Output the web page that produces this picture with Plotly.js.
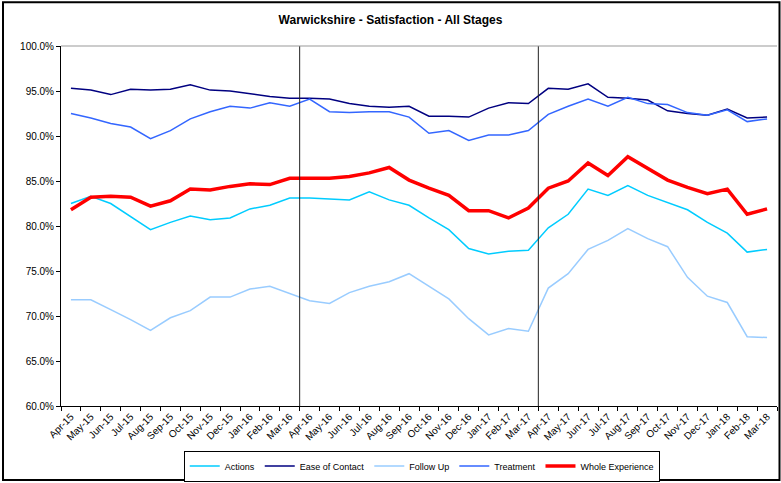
<!DOCTYPE html>
<html>
<head>
<meta charset="utf-8">
<script src="https://cdn.plot.ly/plotly-3.0.1.min.js"></script>
<style>html,body{margin:0;padding:0;background:#fff;}#chart{width:781px;height:483px;}</style>
</head>
<body>
<div id="chart"></div>
<script>
const months = ["Apr-15","May-15","Jun-15","Jul-15","Aug-15","Sep-15","Oct-15","Nov-15","Dec-15","Jan-16","Feb-16","Mar-16",
"Apr-16","May-16","Jun-16","Jul-16","Aug-16","Sep-16","Oct-16","Nov-16","Dec-16","Jan-17","Feb-17","Mar-17",
"Apr-17","May-17","Jun-17","Jul-17","Aug-17","Sep-17","Oct-17","Nov-17","Dec-17","Jan-18","Feb-18","Mar-18"];

const actions = [82.5,83.3,82.5,81.0,79.6,80.4,81.1,80.7,80.9,81.9,82.3,83.1,
83.1,83.0,82.9,83.8,82.9,82.3,80.9,79.6,77.5,76.9,77.2,77.3,
79.8,81.3,84.1,83.4,84.5,83.4,82.6,81.8,80.4,79.2,77.1,77.4];

const easeOfContact = [95.3,95.1,94.6,95.2,95.1,95.2,95.7,95.1,95.0,94.7,94.4,94.2,
94.2,94.1,93.6,93.3,93.2,93.3,92.2,92.2,92.1,93.1,93.7,93.6,
95.3,95.2,95.8,94.3,94.2,94.0,92.8,92.5,92.3,93.0,92.0,92.1];

const followUp = [71.8,71.8,70.7,69.6,68.4,69.8,70.6,72.1,72.1,73.0,73.3,72.5,
71.7,71.4,72.6,73.3,73.8,74.7,73.3,71.9,69.7,67.9,68.6,68.3,
73.1,74.7,77.4,78.4,79.7,78.6,77.7,74.3,72.2,71.5,67.7,67.6];

const treatment = [92.5,92.0,91.4,91.0,89.7,90.6,91.9,92.7,93.3,93.1,93.7,93.3,
94.1,92.7,92.6,92.7,92.7,92.1,90.3,90.6,89.5,90.1,90.1,90.6,
92.4,93.3,94.1,93.3,94.3,93.6,93.5,92.6,92.3,92.9,91.6,91.9];

const wholeExperience = [81.8,83.2,83.3,83.2,82.2,82.8,84.1,84.0,84.4,84.7,84.6,85.3,
85.3,85.3,85.5,85.9,86.5,85.1,84.2,83.4,81.7,81.7,80.9,82.0,
84.2,85.0,87.0,85.6,87.7,86.4,85.1,84.3,83.6,84.1,81.3,81.9];

const yearBreaks = [11.5, 23.5];

const font = "Liberation Sans, Arial, sans-serif";

const traces = [
  {name:"Actions", y:actions, color:"#00CCFF", w:1.5},
  {name:"Ease of Contact", y:easeOfContact, color:"#000080", w:1.5},
  {name:"Follow Up", y:followUp, color:"#99CCFF", w:1.5},
  {name:"Treatment", y:treatment, color:"#3366FF", w:1.5},
  {name:"Whole Experience", y:wholeExperience, color:"#FF0000", w:3.5}
].map(s => ({
  type:"scatter", mode:"lines", name:s.name, x:months, y:s.y,
  line:{color:s.color, width:s.w}
}));

const shapes = yearBreaks.map(b => ({
  type:"line", xref:"x", yref:"paper", x0:b, x1:b, y0:0, y1:1,
  line:{color:"#222", width:1}
}));
shapes.push({type:"line", xref:"paper", yref:"paper", x0:0, x1:1, y0:1, y1:1, line:{color:"#999", width:1}});
shapes.push({type:"rect", xref:"paper", yref:"paper", x0:-0.0810, x1:1.0035, y0:-0.2055, y1:1.1215, line:{color:"#000", width:2}, fillcolor:"rgba(0,0,0,0)"});

const layout = {
  width:781, height:483,
  margin:{l:61, r:4, t:46, b:77},
  paper_bgcolor:"#fff", plot_bgcolor:"#fff",
  font:{family:font, size:10, color:"#000"},
  title:{text:"<b>Warwickshire - Satisfaction - All Stages</b>", x:0.5, xref:"container", y:0.958, yref:"container", yanchor:"middle", xanchor:"center", font:{family:font, size:12, color:"#000"}},
  showlegend:true,
  legend:{orientation:"h", x:0.54, xref:"container", xanchor:"center", y:0.035, yref:"container", yanchor:"middle", bordercolor:"#000", borderwidth:1, bgcolor:"#fff", font:{family:font, size:9}, itemwidth:30, traceorder:"normal"},
  xaxis:{type:"category", automargin:false, tickangle:-45, showgrid:false, zeroline:false, showline:true, linecolor:"#000", linewidth:1, ticks:"outside", ticklen:4, tickcolor:"#000", tickson:"boundaries", tickfont:{family:font, size:10}, range:[-0.5, 35.5], fixedrange:true},
  yaxis:{automargin:false, range:[60,100], dtick:5, tick0:60, tickformat:".1f", ticksuffix:"%", showgrid:false, zeroline:false, showline:true, linecolor:"#000", linewidth:1, ticks:"outside", ticklen:4, tickcolor:"#000", tickfont:{family:font, size:10}},
  shapes:shapes
};

Plotly.newPlot("chart", traces, layout, {staticPlot:true, displayModeBar:false});
</script>
</body>
</html>
